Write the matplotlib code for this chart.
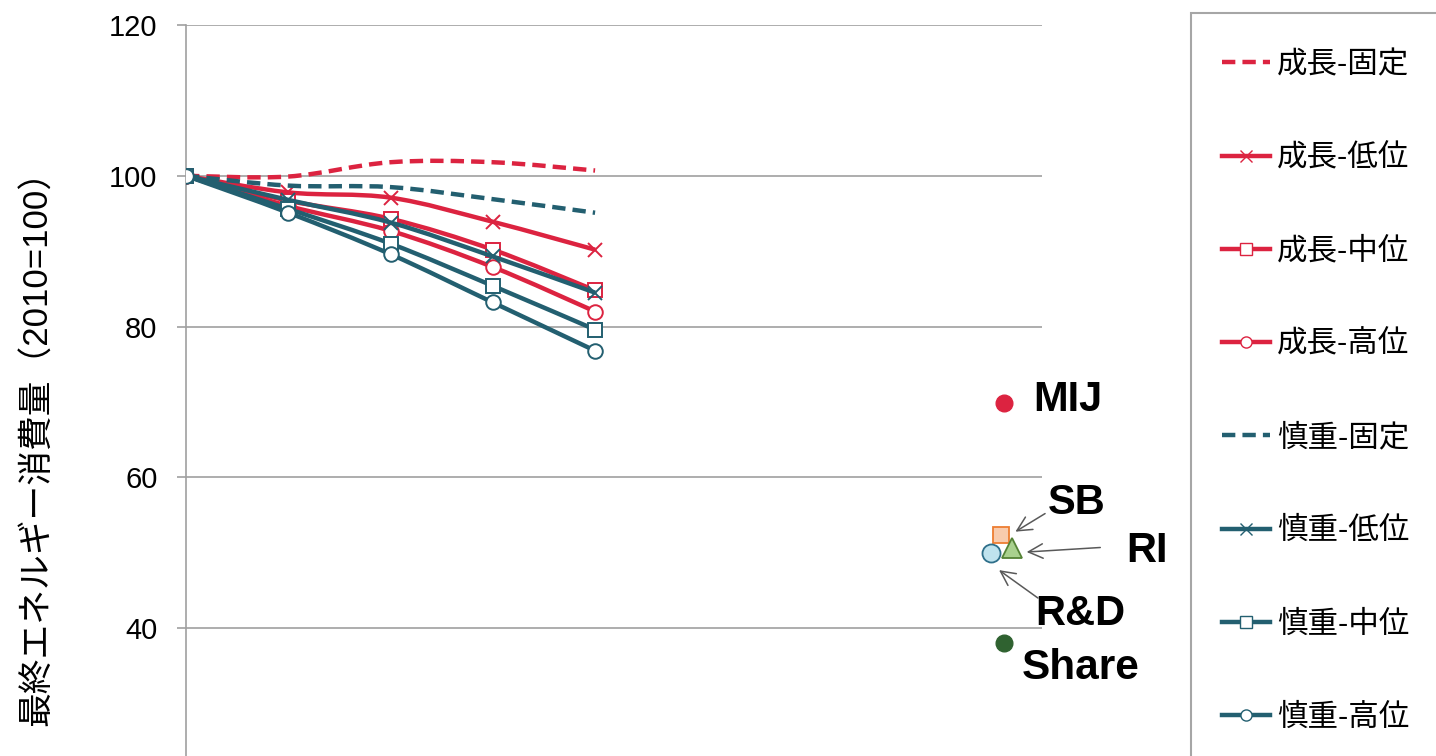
import numpy as np
import matplotlib
matplotlib.use("Agg")
import matplotlib.pyplot as plt
from matplotlib.path import Path
from matplotlib.patches import PathPatch, Rectangle
from matplotlib.lines import Line2D

plt.rcParams['font.family'] = ['Liberation Sans', 'Noto Sans CJK JP']

# ---- data ----
steps = [0, 1, 2, 3, 4]          # time steps (2010 = first)
growth_fixed = [100, 99.9, 101.8, 101.8, 100.7]
growth_low = [100, 97.8, 97.1, 93.9, 90.2]
growth_mid = [100, 96.7, 94.3, 90.2, 84.8]
growth_high = [100, 96.0, 92.7, 87.9, 82.0]
caut_fixed = [100, 98.7, 98.5, 96.9, 95.1]
caut_low = [100, 96.8, 93.8, 89.3, 84.5]
caut_mid = [100, 95.6, 91.0, 85.4, 79.6]
caut_high = [100, 95.1, 89.6, 83.2, 76.8]

labels = ['成長-固定', '成長-低位', '成長-中位', '成長-高位',
          '慎重-固定', '慎重-低位', '慎重-中位', '慎重-高位']

comp_names = ['MIJ', 'SB', 'RI', 'R&D', 'Share']
comp_x = [8.0, 7.97, 8.08, 7.87, 8.0]
comp_y = [69.8, 52.3, 50.6, 50.0, 38.0]

RED = '#dc2340'
TEAL = '#235f70'

series = [
    (growth_fixed, RED, 'dash', None),
    (growth_low, RED, 'solid', 'x'),
    (growth_mid, RED, 'solid', 's'),
    (growth_high, RED, 'solid', 'o'),
    (caut_fixed, TEAL, 'dash', None),
    (caut_low, TEAL, 'solid', 'x'),
    (caut_mid, TEAL, 'solid', 's'),
    (caut_high, TEAL, 'solid', 'o'),
]

W, H = 1436, 756
fig = plt.figure(figsize=(W / 100, H / 100), dpi=100)
ymin = 40 - (756 - 628) / 151 * 20
ax = fig.add_axes([186 / W, 0, (1042 - 186) / W, 731 / H])
ax.set_xlim(0, 8.37)
ax.set_ylim(ymin, 120)


def smooth_path(xs, ys):
    pts = np.column_stack([xs, ys]).astype(float)
    n = len(pts)
    verts = [pts[0]]
    codes = [Path.MOVETO]
    for i in range(n - 1):
        p0 = pts[max(i - 1, 0)]
        p1 = pts[i]
        p2 = pts[i + 1]
        p3 = pts[min(i + 2, n - 1)]
        c1 = p1 + (p2 - p0) / 6.0
        c2 = p2 - (p3 - p1) / 6.0
        verts += [c1, c2, p2]
        codes += [Path.CURVE4] * 3
    return Path(verts, codes)


LW = 3.2
DASH = (0, (3.0, 1.6))
handles = []
for z, (vals, col, ls, mk) in enumerate(series):
    patch = PathPatch(smooth_path(steps, vals), facecolor='none', edgecolor=col,
                      lw=LW, linestyle=DASH if ls == 'dash' else '-',
                      capstyle='butt', joinstyle='round', zorder=3 + z * 0.1)
    ax.add_patch(patch)
    if mk is not None:
        ms = 10 if mk == 'x' else 10.5
        ax.plot(steps, vals, linestyle='none', marker=mk, ms=ms, mfc='white',
                mec=col, mew=1.4, zorder=3.05 + z * 0.1)
    handles.append(Line2D([], [], color=col, lw=LW,
                          linestyle=DASH if ls == 'dash' else '-',
                          marker=mk if mk else None, ms=8, mfc='white', mec=col, mew=1.0))

# comparison points
ax.plot(comp_x[0], comp_y[0], 'o', ms=12, color=RED, mec=RED, zorder=5)
ax.plot(comp_x[1], comp_y[1], 's', ms=12, mfc='#f8cbad', mec='#ed7d31', mew=1.3, zorder=5)
ax.plot(comp_x[2], comp_y[2], '^', ms=14, mfc='#a9d18e', mec='#548235', mew=1.3, zorder=5)
ax.plot(comp_x[3], comp_y[3], 'o', ms=13, mfc='#bfe3ee', mec='#2e6f8a', mew=1.3, zorder=5)
ax.plot(comp_x[4], comp_y[4], 'o', ms=12, color='#2f6230', mec='#2f6230', zorder=5)

tkw = dict(fontsize=30, fontweight='bold', va='center', ha='left',
           color='black', clip_on=False, zorder=6)
ax.text(8.28, 70.2, comp_names[0], **tkw)
ax.text(8.43, 56.6, comp_names[1], **tkw)
ax.text(9.19, 50.3, comp_names[2], **tkw)
ax.text(8.30, 41.9, comp_names[3], **tkw)
ax.text(8.17, 34.7, comp_names[4], fontsize=30.5, fontweight='bold', va='center',
        ha='left', color='black', clip_on=False, zorder=6)

aprops = dict(arrowstyle='->', color='#595959', lw=1.1, mutation_scale=26,
              shrinkA=0, shrinkB=0)
ax.annotate('', xy=(8.11, 52.8), xytext=(8.40, 55.2), arrowprops=aprops, annotation_clip=False)
ax.annotate('', xy=(8.22, 50.1), xytext=(8.94, 50.7), arrowprops=aprops, annotation_clip=False)
ax.annotate('', xy=(7.95, 47.7), xytext=(8.33, 44.0), arrowprops=aprops, annotation_clip=False)

# axes styling
ax.set_yticks([40, 60, 80, 100, 120])
ax.set_xticks([])
ax.grid(axis='y', color='#a0a0a0', lw=1.2, zorder=0)
ax.set_axisbelow(True)
for s in ['top', 'right', 'bottom']:
    ax.spines[s].set_visible(False)
ax.spines['left'].set_color('#a0a0a0')
ax.spines['left'].set_linewidth(1.2)
ax.tick_params(axis='y', length=6.5, width=1.2, color='#a0a0a0', pad=14,
               labelsize=21, labelcolor='black')

fig.text(37 / W, 1 - 440 / H, '最終エネルギー消費量（2010=100）', rotation=90,
         ha='center', va='center', fontsize=25)

# legend
fig.patches.append(Rectangle((1191 / W, -0.05), 0.2, 1 - 13 / H + 0.05,
                             transform=fig.transFigure, facecolor='none',
                             edgecolor='#a6a6a6', lw=1.5))
fig.legend(handles, labels, loc='upper left', bbox_to_anchor=(1222 / W, 1 - 50 / H),
           frameon=False, fontsize=22, handlelength=1.57, handletextpad=0.23,
           labelspacing=2.07, borderpad=0, borderaxespad=0)

fig.savefig('out.png', dpi=100)
